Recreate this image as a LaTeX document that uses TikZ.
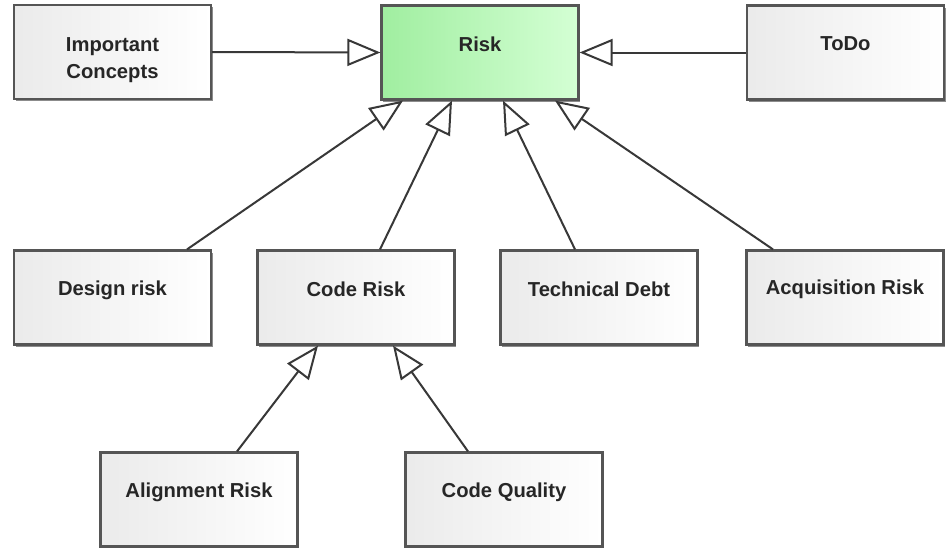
\documentclass[tikz,border=0pt]{standalone}
\usepackage{fontspec}
\setmainfont{Liberation Sans}
\usetikzlibrary{arrows.meta,shadows}
\definecolor{edgegray}{HTML}{555555}
\definecolor{linegray}{HTML}{383838}
\definecolor{greenL}{RGB}{160,238,160}
\definecolor{greenR}{RGB}{212,255,212}
\begin{document}
\begin{tikzpicture}[x=1pt,y=-1pt,
  box/.style={rectangle, draw=edgegray, line width=2.2pt,
    minimum width=197pt, minimum height=94pt, inner sep=0pt,
    left color=gray!16, right color=white,
    drop shadow={shadow xshift=1.5pt, shadow yshift=-2pt, fill=black!45, opacity=1}},
  greenbox/.style={box, left color=greenL, right color=greenR},
  txt/.style={font=\fontsize{20.2}{27}\selectfont\bfseries, text=black!85, align=center},
  gen/.style={draw=linegray, line width=2pt,
    -{Triangle[length=33pt, width=27pt, line width=2pt, fill=white]}}]
\useasboundingbox (0,0) rectangle (947,547);
\fill[white] (0,0) rectangle (947,547);

% top row
\node[box] (ic) at (112.5,52) {};
\node[txt] (ict) at (112.5,60) {Important\\Concepts};
\node[greenbox] (risk) at (480,52.5) {};
\node[txt] (riskt) at (480,44) {Risk};
\node[box] (todo) at (845.5,52.5) {};
\node[txt] (todot) at (845.5,44) {ToDo};

% middle row
\node[box] (design) at (112.5,297.5) {};
\node[txt] (designt) at (112.5,290) {Design risk};
\node[box] (code) at (356,297.5) {};
\node[txt] (codet) at (356,289) {Code Risk};
\node[box] (tech) at (599,297.5) {};
\node[txt] (techt) at (599,289) {Technical Debt};
\node[box] (acq) at (845,297.5) {};
\node[txt] (acqt) at (845,289) {Acquisition Risk};

% bottom row
\node[box] (align) at (199,499.5) {};
\node[txt] (alignt) at (199,492) {Alignment Risk};
\node[box] (qual) at (504,499.5) {};
\node[txt] (qualt) at (504,492) {Code Quality};

% generalizations
\draw[gen] (ic.east) -- (risk.west);
\draw[gen] (todo.west) -- (risk.east);
\draw[gen] ([xshift=74.5pt]design.north) -- ([xshift=-77pt]risk.south);
\draw[gen] ([xshift=24pt]code.north) -- ([xshift=-28pt]risk.south);
\draw[gen] ([xshift=-24pt]tech.north) -- ([xshift=23pt]risk.south);
\draw[gen] ([xshift=-72pt]acq.north) -- ([xshift=75pt]risk.south);
\draw[gen] ([xshift=38pt]align.north) -- ([xshift=-38pt]code.south);
\draw[gen] ([xshift=-36pt]qual.north) -- ([xshift=37pt]code.south);
\end{tikzpicture}
\end{document}
